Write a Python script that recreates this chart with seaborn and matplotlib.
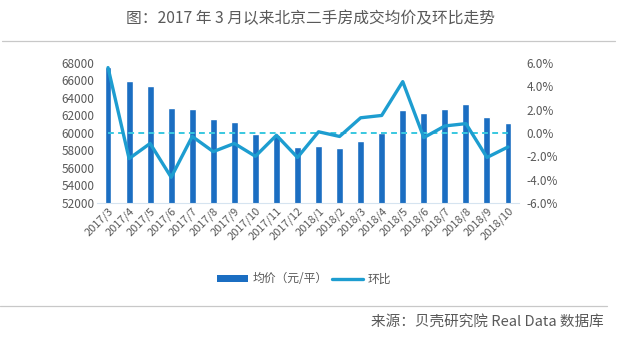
import matplotlib
matplotlib.use("Agg")
import matplotlib.pyplot as plt
import matplotlib.ticker as mticker
from matplotlib.patches import Patch
from matplotlib.lines import Line2D
import numpy as np
import pandas as pd
import seaborn as sns

# Monthly data
months = ["2017/3", "2017/4", "2017/5", "2017/6", "2017/7", "2017/8", "2017/9",
          "2017/10", "2017/11", "2017/12", "2018/1", "2018/2", "2018/3", "2018/4",
          "2018/5", "2018/6", "2018/7", "2018/8", "2018/9", "2018/10"]
avg_price = [67500, 65900, 65400, 62900, 62700, 61600, 61200, 59900, 59800, 58400,
             58500, 58300, 59100, 60000, 62600, 62300, 62700, 63300, 61800, 61100]
mom_change = [5.6, -2.2, -0.9, -3.8, -0.3, -1.6, -0.9, -2.0, -0.2, -2.1,
              0.1, -0.3, 1.3, 1.5, 4.4, -0.4, 0.6, 0.8, -2.1, -1.2]
price_ticks = [52000, 54000, 56000, 58000, 60000, 62000, 64000, 66000, 68000]
pct_ticks = [-6, -4, -2, 0, 2, 4, 6]

title = "图：2017 年 3 月以来北京二手房成交均价及环比走势"
source = "来源：贝壳研究院 Real Data 数据库"
bar_label = "均价（元/平）"
line_label = "环比"

BAR_C = "#1b6ec2"
LINE_C = "#1d9dd0"
ZERO_C = "#38c8e0"
TEXT_C = "#595959"

sns.set_style("white")
plt.rcParams["font.family"] = ["Noto Sans CJK SC", "DejaVu Sans"]

df = pd.DataFrame({"month": months, "price": avg_price,
                   "pos": np.arange(len(months)), "pct": mom_change})

fig = plt.figure(figsize=(6.21, 3.44), dpi=100)
ax = fig.add_axes([0.157, 0.410, 0.678, 0.407])

sns.barplot(data=df, x="month", y="price", color=BAR_C, width=0.33,
            saturation=1, ax=ax)
ax.set_ylim(price_ticks[0], price_ticks[-1])
ax.set_yticks(price_ticks)
ax.set_xlim(-0.5, len(months) - 0.5)
ax.set_xlabel("")
ax.set_ylabel("")

ax2 = ax.twinx()
ax2.set_ylim(pct_ticks[0], pct_ticks[-1])
ax2.set_yticks(pct_ticks)
ax2.yaxis.set_major_formatter(mticker.FuncFormatter(lambda v, p: f"{v:.1f}%"))
ax2.plot([df["pos"].iloc[0], df["pos"].iloc[-1]], [0, 0], color=ZERO_C,
         lw=1.4, ls=(0, (3, 2.2)), zorder=2)
sns.lineplot(data=df, x="pos", y="pct", color=LINE_C, lw=2.4, ax=ax2, zorder=3)
ax2.set_xlim(-0.5, len(months) - 0.5)
ax2.set_xlabel("")
ax2.set_ylabel("")

for a in (ax, ax2):
    for s in a.spines.values():
        s.set_visible(False)
ax.spines["bottom"].set_visible(True)
ax.spines["bottom"].set_color("#d6e4f0")
ax.spines["bottom"].set_linewidth(0.8)

ax.tick_params(axis="y", length=0, labelsize=8.5, labelcolor=TEXT_C, pad=2)
ax2.tick_params(axis="y", length=0, labelsize=8.5, labelcolor=TEXT_C, pad=6)
ax.tick_params(axis="x", which="major", length=0, labelsize=8, labelcolor=TEXT_C, pad=2)
ax.set_xticks(np.arange(len(months)))
ax.set_xticklabels(months, rotation=45, ha="right", rotation_mode="anchor")
ax.set_xticks(np.arange(len(months) + 1) - 0.5, minor=True)
ax.tick_params(axis="x", which="minor", length=3, color="#d6e4f0", direction="in")

fig.text(0.5, 0.945, title, ha="center", va="center", fontsize=11.3, color=TEXT_C)
fig.add_artist(Line2D([0.003, 0.99], [0.881, 0.881], color="#c8c8c8", lw=0.9,
                      transform=fig.transFigure))
fig.add_artist(Line2D([0.0, 0.978], [0.110, 0.110], color="#c8c8c8", lw=0.9,
                      transform=fig.transFigure))
fig.text(0.972, 0.066, source, ha="right", va="center", fontsize=10.5, color=TEXT_C)

handles = [Patch(facecolor=BAR_C, edgecolor="none", label=bar_label),
           Line2D([0], [0], color=LINE_C, lw=2.4, label=line_label)]
fig.legend(handles=handles, loc="center", bbox_to_anchor=(0.49, 0.189), ncol=2,
           frameon=False, fontsize=8.5, handlelength=2.6, handleheight=0.5,
           handletextpad=0.4, columnspacing=0.4, labelcolor=TEXT_C)

fig.savefig("out.png", dpi=100, facecolor="white")
